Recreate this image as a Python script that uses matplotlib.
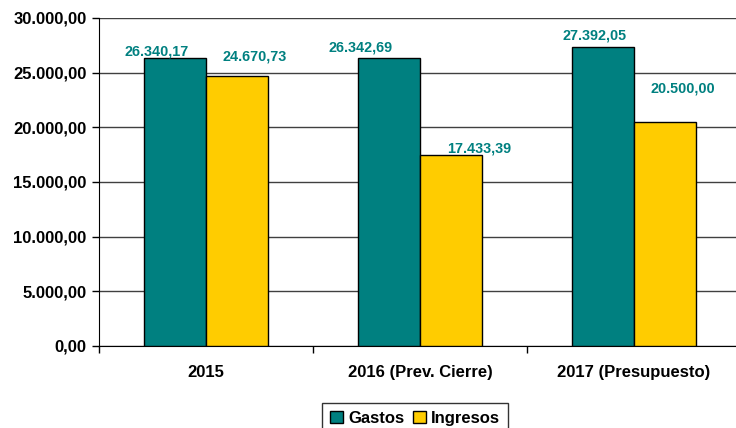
import matplotlib.pyplot as plt
import numpy as np

plt.rcParams['font.family'] = ['Liberation Sans', 'DejaVu Sans']
plt.rcParams['font.weight'] = 'bold'

categories = ['2015', '2016 (Prev. Cierre)', '2017 (Presupuesto)']
gastos = [26340.17, 26342.69, 27392.05]
ingresos = [24670.73, 17433.39, 20500.00]
series_names = ['Gastos', 'Ingresos']

# label nudges (pixels), the source chart had hand-placed labels
gastos_off = [(-18, 3), (-28, 6), (-8, 7)]
ingresos_off = [(18, 16), (28, 3), (17.5, 29)]

teal = '#008080'
yellow = '#FFCC00'


def fmt(v):
    s = f'{v:,.2f}'
    return s.replace(',', 'X').replace('.', ',').replace('X', '.')


fig = plt.figure(figsize=(7.36, 4.28), dpi=100)
ax = fig.add_axes([99 / 736, 1 - 346 / 428, 642 / 736, 328 / 428])

x = np.arange(len(categories))
w = 0.29
b1 = ax.bar(x - w / 2, gastos, w, color=teal, edgecolor='black', linewidth=1, zorder=3, label=series_names[0])
b2 = ax.bar(x + w / 2, ingresos, w, color=yellow, edgecolor='black', linewidth=1, zorder=3, label=series_names[1])

for bars, vals, offs in [(b1, gastos, gastos_off), (b2, ingresos, ingresos_off)]:
    for r, v, (dx, dy) in zip(bars, vals, offs):
        ax.annotate(fmt(v), (r.get_x() + r.get_width() / 2, v), xytext=(dx, dy),
                    textcoords='offset pixels', ha='center', va='baseline',
                    color=teal, fontsize=10.4, fontweight='bold')

ax.set_xlim(-0.5, 2.5)
ax.set_ylim(0, 30000)
ax.set_yticks(np.arange(0, 30001, 5000))
ax.set_yticklabels([fmt(t) for t in np.arange(0, 30001, 5000)], fontsize=12, fontweight='bold')
ax.yaxis.grid(True, color='#404040', linewidth=1, zorder=0)

ax.set_xticks([-0.5, 0.5, 1.5, 2.5])
ax.set_xticklabels([])
ax.set_xticks(x, minor=True)
ax.set_xticklabels(categories, minor=True, fontsize=12, fontweight='bold')
ax.tick_params(axis='x', which='minor', length=0, pad=14)
ax.tick_params(axis='x', which='major', length=5, width=1)
ax.tick_params(axis='y', length=5, width=1, pad=4)

ax.spines['top'].set_visible(False)
ax.spines['right'].set_visible(False)
ax.set_axisbelow(True)

fig.legend(loc='upper center', bbox_to_anchor=(415 / 736, 1 - 403 / 428), ncol=2,
           frameon=True, fancybox=False, edgecolor='black',
           handlelength=0.8, handleheight=0.8, handletextpad=0.3, columnspacing=0.5,
           borderpad=0.45, borderaxespad=0, prop={'weight': 'bold', 'size': 12})

fig.savefig('out.png', dpi=100)
